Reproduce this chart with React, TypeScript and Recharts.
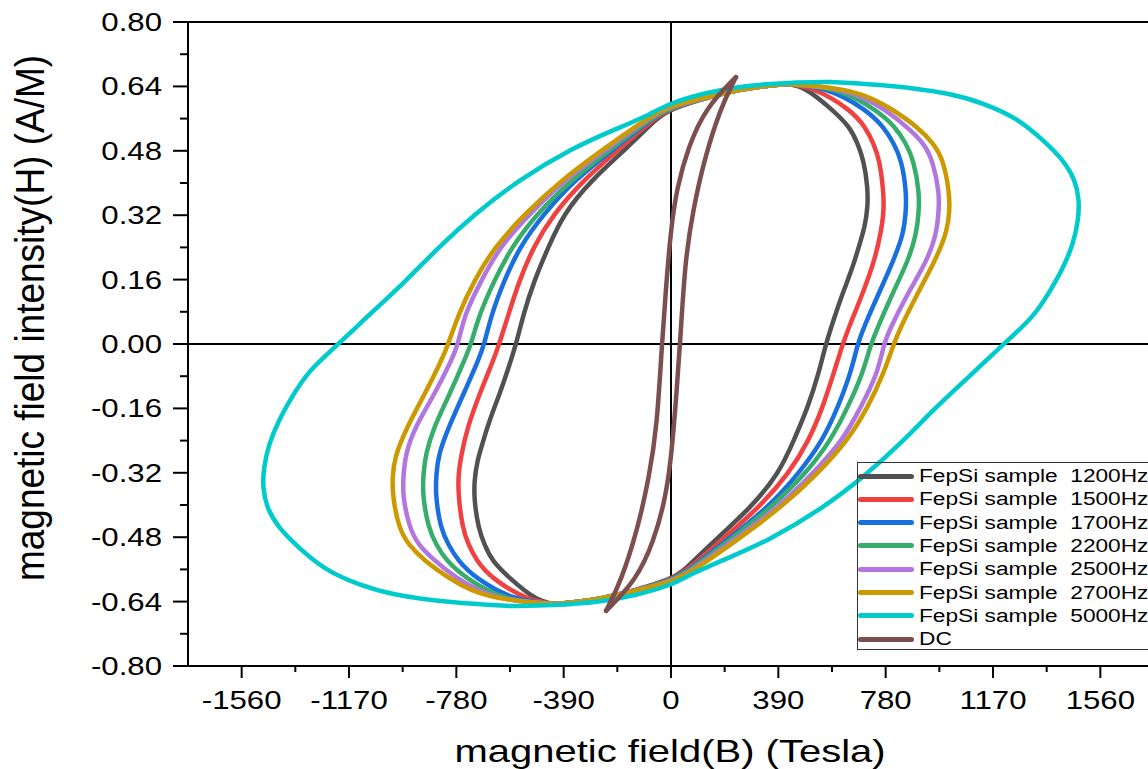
import React from "react";
import { LineChart, Line, XAxis, YAxis, ReferenceLine, Label } from "recharts";

const xMajorTicks = [-1560, -1170, -780, -390, 0, 390, 780, 1170, 1560];
const xMinorTicks = [-1365, -975, -585, -195, 195, 585, 975, 1365];
const yMajorTicks = [-0.8, -0.64, -0.48, -0.32, -0.16, 0, 0.16, 0.32, 0.48, 0.64, 0.8];
const yMinorTicks = [-0.72, -0.56, -0.4, -0.24, -0.08, 0.08, 0.24, 0.4, 0.56, 0.72];

const seriesNames = [
  "FepSi sample  1200Hz",
  "FepSi sample  1500Hz",
  "FepSi sample  1700Hz",
  "FepSi sample  2200Hz",
  "FepSi sample  2500Hz",
  "FepSi sample  2700Hz",
  "FepSi sample  5000Hz",
  "DC",
];
const seriesColors = ["#515151", "#F14040", "#1A6FDF", "#37AD6B", "#B177DE", "#CC9900", "#00CBCC", "#7D4E4E"];

// each loop = falling branch (top tip -> right side -> bottom tip) + rising branch (bottom tip -> left side -> top tip)
const hz1200Down = [
  [417, 0.646], [483, 0.641], [588, 0.581], [650, 0.539], [678, 0.499], [700, 0.457], [715, 0.389], [715, 0.34],
  [704, 0.29], [686, 0.25], [668, 0.208], [646, 0.165], [624, 0.126], [602, 0.083], [562, 0], [537, -0.073],
  [497, -0.158], [446, -0.24], [392, -0.322], [290, -0.407], [156, -0.489], [47, -0.564], [0, -0.584],
  [-134, -0.613], [-254, -0.633], [-363, -0.643], [-417, -0.646],
];
const hz1200Up = [
  [-417, -0.646], [-483, -0.641], [-588, -0.581], [-650, -0.539], [-678, -0.499], [-700, -0.457], [-715, -0.389], [-715, -0.34],
  [-704, -0.29], [-686, -0.25], [-668, -0.208], [-646, -0.165], [-624, -0.126], [-602, -0.083], [-562, 0], [-537, 0.073],
  [-497, 0.158], [-446, 0.24], [-392, 0.322], [-290, 0.407], [-156, 0.489], [-47, 0.564], [0, 0.584],
  [134, 0.613], [254, 0.633], [363, 0.643], [417, 0.646],
];

const hz1500Down = [
  [417, 0.646], [519, 0.638], [655, 0.581], [706, 0.539], [736, 0.499], [758, 0.457], [773, 0.374], [773, 0.325],
  [762, 0.275], [740, 0.208], [697, 0.126], [646, 0.041], [624, 0], [591, -0.073], [551, -0.158], [501, -0.24],
  [428, -0.322], [319, -0.407], [181, -0.489], [54, -0.564], [0, -0.586], [-134, -0.613], [-254, -0.633],
  [-363, -0.643], [-417, -0.646],
];
const hz1500Up = [
  [-417, -0.646], [-519, -0.638], [-655, -0.581], [-706, -0.539], [-736, -0.499], [-758, -0.457], [-773, -0.374], [-773, -0.325],
  [-762, -0.275], [-740, -0.208], [-697, -0.126], [-646, -0.041], [-624, 0], [-591, 0.073], [-551, 0.158], [-501, 0.24],
  [-428, 0.322], [-319, 0.407], [-181, 0.489], [-54, 0.564], [0, 0.586], [134, 0.613], [254, 0.633],
  [363, 0.643], [417, 0.646],
];

const hz1700Down = [
  [417, 0.646], [570, 0.638], [712, 0.581], [773, 0.539], [809, 0.499], [838, 0.457], [856, 0.374], [853, 0.325],
  [845, 0.275], [809, 0.208], [755, 0.126], [700, 0.041], [678, 0], [653, -0.073], [606, -0.158], [551, -0.24],
  [464, -0.322], [352, -0.407], [200, -0.489], [62, -0.564], [0, -0.588], [-134, -0.613], [-254, -0.633],
  [-363, -0.643], [-417, -0.646],
];
const hz1700Up = [
  [-417, -0.646], [-570, -0.638], [-712, -0.581], [-773, -0.539], [-809, -0.499], [-838, -0.457], [-856, -0.374], [-853, -0.325],
  [-845, -0.275], [-809, -0.208], [-755, -0.126], [-700, -0.041], [-678, 0], [-653, 0.073], [-606, 0.158], [-551, 0.24],
  [-464, 0.322], [-352, 0.407], [-200, 0.489], [-62, 0.564], [0, 0.588], [134, 0.613], [254, 0.633],
  [363, 0.643], [417, 0.646],
];

const hz2200Down = [
  [417, 0.646], [606, 0.638], [748, 0.581], [816, 0.539], [853, 0.499], [882, 0.457], [903, 0.374], [900, 0.325],
  [892, 0.275], [863, 0.208], [805, 0.126], [751, 0.041], [726, 0], [697, -0.073], [642, -0.158], [580, -0.24],
  [490, -0.322], [363, -0.407], [210, -0.489], [65, -0.564], [0, -0.588], [-134, -0.613], [-254, -0.633],
  [-363, -0.643], [-417, -0.646],
];
const hz2200Up = [
  [-417, -0.646], [-606, -0.638], [-748, -0.581], [-816, -0.539], [-853, -0.499], [-882, -0.457], [-903, -0.374], [-900, -0.325],
  [-892, -0.275], [-863, -0.208], [-805, -0.126], [-751, -0.041], [-726, 0], [-697, 0.073], [-642, 0.158], [-580, 0.24],
  [-490, 0.322], [-363, 0.407], [-210, 0.489], [-65, 0.564], [0, 0.588], [134, 0.613], [254, 0.633],
  [363, 0.643], [417, 0.646],
];

const hz2500Down = [
  [417, 0.646], [642, 0.636], [785, 0.581], [871, 0.531], [918, 0.499], [951, 0.457], [976, 0.374], [972, 0.325],
  [965, 0.275], [932, 0.208], [860, 0.126], [798, 0.041], [773, 0], [751, -0.073], [689, -0.158], [624, -0.24],
  [515, -0.322], [388, -0.407], [225, -0.489], [73, -0.564], [0, -0.591], [-134, -0.613], [-254, -0.633],
  [-363, -0.643], [-417, -0.646],
];
const hz2500Up = [
  [-417, -0.646], [-642, -0.636], [-785, -0.581], [-871, -0.531], [-918, -0.499], [-951, -0.457], [-976, -0.374], [-972, -0.325],
  [-965, -0.275], [-932, -0.208], [-860, -0.126], [-798, -0.041], [-773, 0], [-751, 0.073], [-689, 0.158], [-624, 0.24],
  [-515, 0.322], [-388, 0.407], [-225, 0.489], [-73, 0.564], [0, 0.591], [134, 0.613], [254, 0.633],
  [363, 0.643], [417, 0.646],
];

const hz2700Down = [
  [417, 0.646], [678, 0.633], [810, 0.581], [896, 0.539], [954, 0.499], [990, 0.457], [1012, 0.374], [1012, 0.332],
  [1005, 0.282], [961, 0.208], [896, 0.126], [834, 0.041], [809, 0], [773, -0.073], [715, -0.158], [642, -0.24],
  [533, -0.322], [399, -0.407], [236, -0.489], [80, -0.564], [0, -0.593], [-134, -0.613], [-254, -0.633],
  [-363, -0.643], [-417, -0.646],
];
const hz2700Up = [
  [-417, -0.646], [-678, -0.633], [-810, -0.581], [-896, -0.539], [-954, -0.499], [-990, -0.457], [-1012, -0.374], [-1012, -0.332],
  [-1005, -0.282], [-961, -0.208], [-896, -0.126], [-834, -0.041], [-809, 0], [-773, 0.073], [-715, 0.158], [-642, 0.24],
  [-533, 0.322], [-399, 0.407], [-236, 0.489], [-80, 0.564], [0, 0.593], [134, 0.613], [254, 0.633],
  [363, 0.643], [417, 0.646],
];

const hz5000Down = [
  [580, 0.651], [798, 0.643], [1016, 0.623], [1136, 0.598], [1259, 0.561], [1353, 0.506], [1426, 0.457], [1469, 0.407],
  [1484, 0.357], [1480, 0.307], [1462, 0.25], [1426, 0.19], [1379, 0.133], [1317, 0.066], [1208, 0], [1088, -0.078],
  [961, -0.158], [845, -0.24], [715, -0.322], [555, -0.407], [352, -0.489], [210, -0.531], [73, -0.571], [0, -0.6],
  [-134, -0.625], [-254, -0.641], [-435, -0.65], [-580, -0.651],
];
const hz5000Up = [
  [-580, -0.651], [-798, -0.643], [-1016, -0.623], [-1136, -0.598], [-1259, -0.561], [-1353, -0.506], [-1426, -0.457], [-1469, -0.407],
  [-1484, -0.357], [-1480, -0.307], [-1462, -0.25], [-1426, -0.19], [-1379, -0.133], [-1317, -0.066], [-1208, 0], [-1088, 0.078],
  [-961, 0.158], [-845, 0.24], [-715, 0.322], [-555, 0.407], [-352, 0.489], [-210, 0.531], [-73, 0.571], [0, 0.6],
  [134, 0.625], [254, 0.641], [435, 0.65], [580, 0.651],
];

const dcDown = [
  [236, 0.663], [181, 0.589], [120, 0.457], [80, 0.332], [51, 0.208], [33, 0], [18, -0.141], [0, -0.29],
  [-22, -0.389], [-62, -0.489], [-127, -0.588], [-236, -0.663],
];
const dcUp = [
  [-236, -0.663], [-181, -0.589], [-120, -0.457], [-80, -0.332], [-51, -0.208], [-33, 0], [-18, 0.141], [0, 0.29],
  [22, 0.389], [62, 0.489], [127, 0.588], [236, 0.663],
];

const loops = [
  [hz1200Down, hz1200Up],
  [hz1500Down, hz1500Up],
  [hz1700Down, hz1700Up],
  [hz2200Down, hz2200Up],
  [hz2500Down, hz2500Up],
  [hz2700Down, hz2700Up],
  [hz5000Down, hz5000Up],
  [dcDown, dcUp],
];

const FONT = '"Liberation Sans", Arial, sans-serif';
const STRETCH = 1.2;

const isIn = (list: number[], v: number) => list.some((t) => Math.abs(t - v) < 1e-6);

function XTick(props: any) {
  const { x, y, payload } = props;
  const major = isIn(xMajorTicks, payload.value);
  return (
    <g>
      <line x1={x} x2={x} y1={y} y2={y + (major ? 12 : 6)} stroke="#000" strokeWidth={2} />
      {major && (
        <text
          transform={`translate(${x},${y + 34}) scale(${STRETCH},1)`}
          textAnchor="middle"
          dominantBaseline="central"
          fontSize={26}
          fontFamily={FONT}
          fill="#000"
        >
          {payload.value}
        </text>
      )}
    </g>
  );
}

function YTick(props: any) {
  const { x, y, payload } = props;
  const major = isIn(yMajorTicks, payload.value);
  return (
    <g>
      <line x1={x} x2={x - (major ? 15 : 8)} y1={y} y2={y} stroke="#000" strokeWidth={2} />
      {major && (
        <text
          transform={`translate(${x - 26},${y}) scale(${STRETCH},1)`}
          textAnchor="end"
          dominantBaseline="central"
          fontSize={26}
          fontFamily={FONT}
          fill="#000"
        >
          {payload.value.toFixed(2)}
        </text>
      )}
    </g>
  );
}

const XTitle = () => (
  <text transform="translate(670,762) scale(1.25,1)" textAnchor="middle" fontSize={32} fontFamily={FONT} fill="#000">
    magnetic field(B) (Tesla)
  </text>
);

const YTitle = () => (
  <text transform="translate(44,318) scale(1.1,1) rotate(-90)" textAnchor="middle" fontSize={37} fontFamily={FONT} fill="#000">
    magnetic field intensity(H) (A/M)
  </text>
);

export default function App() {
  const xTicks = [...xMajorTicks, ...xMinorTicks].sort((a, b) => a - b);
  const yTicks = [...yMajorTicks, ...yMinorTicks].sort((a, b) => a - b);

  return (
    <div
      style={{
        position: "fixed",
        left: 0,
        top: 0,
        width: 1148,
        height: 769,
        overflow: "hidden",
        background: "#fff",
        fontFamily: FONT,
      }}
    >
      <LineChart width={1154} height={769} margin={{ top: 12, right: 0, bottom: 0, left: 0 }}>
        <XAxis
          xAxisId="b"
          type="number"
          dataKey="x"
          domain={[-1755, 1755]}
          ticks={xTicks}
          interval={0}
          tick={(p: any) => <XTick {...p} />}
          tickLine={false}
          tickSize={0}
          tickMargin={0}
          height={103}
          allowDataOverflow
          axisLine={{ stroke: "#000", strokeWidth: 2 }}
        >
          <Label content={XTitle} />
        </XAxis>
        <XAxis
          xAxisId="t"
          orientation="top"
          type="number"
          dataKey="x"
          domain={[-1755, 1755]}
          tick={false}
          tickLine={false}
          height={10}
          allowDataOverflow
          axisLine={{ stroke: "#000", strokeWidth: 2 }}
        />
        <YAxis
          yAxisId="l"
          type="number"
          dataKey="y"
          domain={[-0.8, 0.8]}
          ticks={yTicks}
          interval={0}
          tick={(p: any) => <YTick {...p} />}
          tickLine={false}
          tickSize={0}
          tickMargin={0}
          width={188}
          allowDataOverflow
          axisLine={{ stroke: "#000", strokeWidth: 2 }}
        >
          <Label content={YTitle} />
        </YAxis>
        <ReferenceLine xAxisId="b" yAxisId="l" x={0} stroke="#000" strokeWidth={2} />
        <ReferenceLine xAxisId="b" yAxisId="l" y={0} stroke="#000" strokeWidth={2} />
        {loops.map((branches, i) =>
          branches.map((branch, j) => (
            <Line
              key={`${i}-${j}`}
              xAxisId="b"
              yAxisId="l"
              data={branch.map(([x, y]) => ({ x, y }))}
              dataKey="y"
              name={seriesNames[i]}
              type="basis"
              stroke={seriesColors[i]}
              strokeWidth={4.5}
              strokeLinecap="round"
              dot={false}
              activeDot={false}
              legendType="none"
              isAnimationActive={false}
            />
          ))
        )}
      </LineChart>
      <div
        style={{
          position: "absolute",
          left: 857,
          top: 462,
          width: 400,
          height: 188,
          border: "1.5px solid #333",
          boxSizing: "border-box",
        }}
      >
        {seriesNames.map((name, i) => (
          <div
            key={name}
            style={{ position: "absolute", left: 0, top: 13 + i * 23.3 - 11, height: 22, width: 400 }}
          >
            <div
              style={{
                position: "absolute",
                left: 0,
                top: 8.5,
                width: 56,
                height: 5,
                borderRadius: 2.5,
                background: seriesColors[i],
              }}
            />
            <div
              style={{
                position: "absolute",
                left: 61,
                top: 0,
                lineHeight: "22px",
                fontSize: 18,
                whiteSpace: "pre",
                color: "#000",
                transform: "scaleX(1.26)",
                transformOrigin: "left center",
              }}
            >
              {name}
            </div>
          </div>
        ))}
      </div>
    </div>
  );
}
